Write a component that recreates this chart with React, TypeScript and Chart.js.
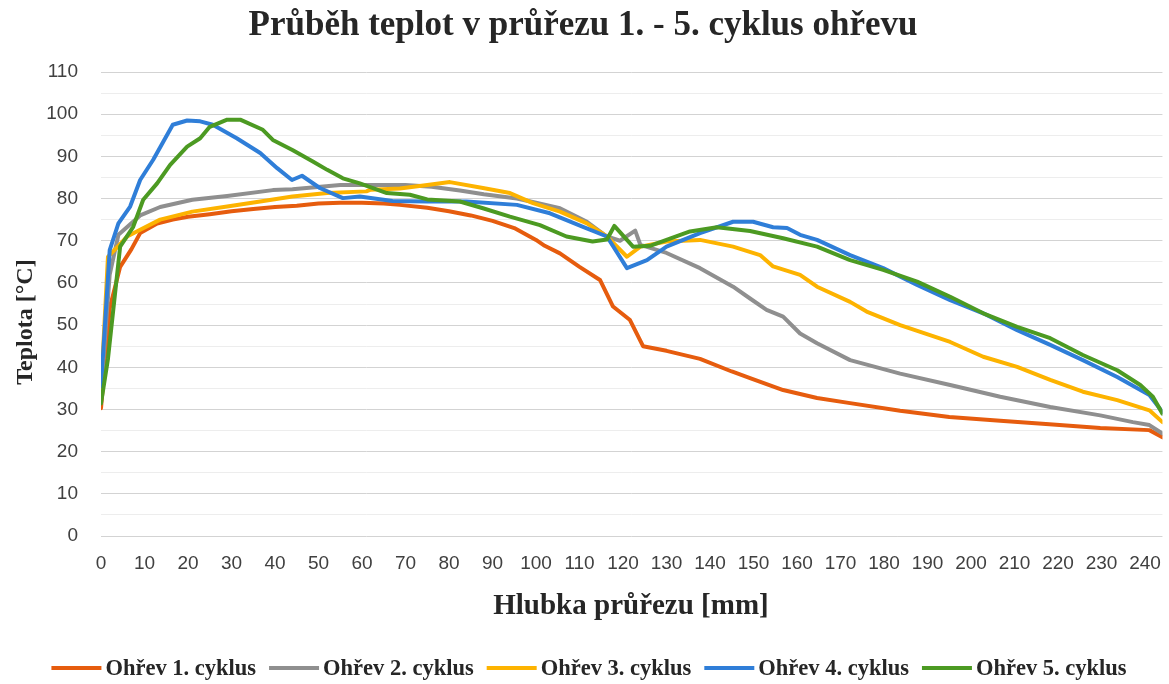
import { useEffect, useRef } from 'react';
import { Chart, registerables } from 'chart.js';

Chart.register(...registerables);

const chartTitle = 'Průběh teplot v průřezu 1. - 5. cyklus ohřevu';
const xAxisTitle = 'Hlubka průřezu [mm]';
const yAxisTitle = 'Teplota [°C]';

const seriesLabels = ['Ohřev 1. cyklus', 'Ohřev 2. cyklus', 'Ohřev 3. cyklus', 'Ohřev 4. cyklus', 'Ohřev 5. cyklus'];
const seriesColors = ['#E65C0E', '#8F8F8F', '#FDB300', '#2F7ED8', '#4C9A22'];

const depth1 = [0, 2, 4.4, 7, 9, 12.9, 16.5, 20, 25, 30, 35, 40, 45, 50, 55, 60, 65, 68.7, 75, 80, 85, 90, 95, 100, 102, 105.5, 110, 114.7, 117.7, 121.6, 124.6, 130, 137.7, 145, 149.2, 156.8, 164.6, 172.2, 183.7, 195, 206.7, 218, 229.7, 241, 244];
const temp1 = [30.3, 54, 63.8, 68, 71.8, 74.1, 75, 75.7, 76.3, 77, 77.5, 78, 78.3, 78.8, 79, 79, 78.8, 78.5, 77.8, 77, 76, 74.7, 73, 70.2, 68.8, 67, 63.8, 60.7, 54.4, 51.2, 45, 43.9, 42, 39, 37.4, 34.6, 32.7, 31.5, 29.7, 28.2, 27.3, 26.5, 25.6, 25.1, 23.4];

const depth2 = [0, 2, 4, 9, 13.6, 21, 29, 39.5, 44, 55, 67, 70, 76, 82.5, 88, 95.6, 100, 105.5, 111.7, 116.3, 119.3, 122.8, 124, 130, 137.7, 145.3, 149.2, 153, 156.8, 160.7, 164.6, 172.2, 183.7, 195.2, 206.7, 218.2, 229.7, 237.2, 241, 244];
const temp2 = [34, 62, 71.4, 76, 78, 79.7, 80.6, 82, 82.2, 83.2, 83.2, 83.2, 82.8, 81.9, 81, 80, 79, 77.7, 74.5, 71, 70, 72.4, 69, 67.1, 63.5, 59.1, 56.3, 53.6, 52, 48, 45.7, 41.7, 38.5, 35.8, 33, 30.6, 28.6, 27, 26.3, 24.3];

const depth3 = [0, 1.6, 6, 9, 13.6, 21, 29, 36.6, 44, 52, 61, 62, 68.7, 75, 80.2, 87.8, 94, 99.3, 105.5, 111.7, 116.3, 120.9, 124, 130, 137.7, 145.3, 151.5, 154.5, 160.7, 164.6, 172.2, 176, 183.7, 195.2, 202.8, 210.6, 218.2, 225.7, 233.6, 241, 244];
const temp3 = [34.6, 66.2, 71, 72.6, 75, 76.9, 78.1, 79.3, 80.5, 81.3, 81.7, 82.1, 82.4, 83.2, 83.9, 82.5, 81.3, 78.9, 76.9, 74.1, 71, 66.2, 68.6, 69.8, 70.2, 68.6, 66.6, 63.9, 61.9, 59.1, 55.5, 53.2, 50, 46, 42.5, 40.1, 37, 34.2, 32.2, 29.8, 27];

const depth4 = [0, 2, 4, 6.7, 9, 12, 16.5, 19.8, 22.8, 25.7, 31.2, 36.6, 40.5, 43.9, 46.2, 50.3, 55.6, 59.5, 67, 75, 84, 95.6, 103.2, 110.8, 116.3, 120.9, 125.5, 130, 137.7, 145.3, 149.9, 154.5, 157.7, 160.7, 164.6, 172.2, 179.8, 187.6, 195.2, 202.8, 210.6, 218.2, 225.7, 233.6, 241, 244];
const temp4 = [35.4, 67.8, 74.1, 78.1, 84.4, 89.2, 97.5, 98.5, 98.3, 97.5, 94.3, 90.8, 87.2, 84.4, 85.4, 82.5, 80.1, 80.5, 79.4, 79.3, 79.3, 78.5, 76.5, 73.3, 71, 63.5, 65.4, 68.6, 71.8, 74.5, 74.5, 73.2, 73, 71.4, 70.2, 66.6, 63.5, 59.5, 55.9, 52.8, 48.8, 45.3, 41.7, 37.7, 33.4, 29.4];

const depth5 = [0, 1.6, 4.4, 7.4, 9.7, 12.9, 15.9, 19.8, 22.8, 25, 29, 32, 37.2, 39.5, 44, 48.7, 52, 55.6, 59.5, 65.7, 71, 75, 82.5, 87.8, 94, 100.9, 107, 113, 116.3, 118, 122.3, 126.2, 130, 135.4, 141.6, 149.2, 156.8, 164.6, 172.2, 179.8, 187.6, 195.2, 202.8, 210.6, 218.2, 225.7, 233.6, 238.9, 241.8, 244];
const temp5 = [31.4, 42, 68.6, 73.3, 79.7, 83.6, 88, 92.3, 94.3, 97, 98.7, 98.7, 96.3, 93.9, 91.5, 88.8, 86.8, 84.8, 83.6, 81.3, 80.9, 79.8, 79.3, 77.7, 75.7, 73.7, 71, 69.8, 70.3, 73.5, 68.6, 68.8, 70.2, 72.2, 73.2, 72.3, 70.6, 68.6, 65.4, 63.1, 60.3, 56.7, 52.8, 49.6, 46.9, 42.9, 39.3, 35.8, 33, 29];

const depths = [depth1, depth2, depth3, depth4, depth5];
const temps = [temp1, temp2, temp3, temp4, temp5];

export default function App() {
  const ref = useRef<HTMLCanvasElement>(null);

  useEffect(() => {
    if (!ref.current) return;
    const datasets = seriesLabels.map((label, i) => ({
      label,
      data: depths[i].map((x, j) => ({ x, y: temps[i][j] })),
      borderColor: seriesColors[i],
      backgroundColor: seriesColors[i],
      borderWidth: 4,
      pointRadius: 0,
      pointHoverRadius: 0,
      showLine: true,
      tension: 0,
      borderCapStyle: 'round' as const,
      borderJoinStyle: 'round' as const,
      order: 5 - i,
    }));

    const textPlugin = {
      id: 'customTexts',
      afterDraw(chart: any) {
        const ctx = chart.ctx as CanvasRenderingContext2D;
        ctx.save();
        ctx.fillStyle = '#262626';
        ctx.textAlign = 'center';
        ctx.textBaseline = 'alphabetic';
        ctx.font = 'bold 35px "Liberation Serif"';
        ctx.fillText(chartTitle, 583, 35);

        ctx.font = 'bold 29px "Liberation Serif"';
        ctx.fillText(xAxisTitle, 631, 614);

        ctx.save();
        ctx.translate(26, 322);
        ctx.rotate(-Math.PI / 2);
        ctx.textBaseline = 'middle';
        ctx.font = 'bold 24px "Liberation Serif"';
        ctx.fillText(yAxisTitle, 0, 0);
        ctx.restore();

        // legend
        ctx.font = 'bold 22.5px "Liberation Serif"';
        const markerW = 50;
        const gap = 4;
        const itemGap = 13;
        const widths = seriesLabels.map((t) => ctx.measureText(t).width);
        const total = widths.reduce((a, w) => a + markerW + gap + w, 0) + itemGap * (seriesLabels.length - 1);
        let x = 589 - total / 2;
        const y = 668;
        ctx.textAlign = 'left';
        ctx.textBaseline = 'middle';
        seriesLabels.forEach((t, i) => {
          ctx.strokeStyle = seriesColors[i];
          ctx.lineWidth = 4;
          ctx.lineCap = 'butt';
          ctx.beginPath();
          ctx.moveTo(x, y);
          ctx.lineTo(x + markerW, y);
          ctx.stroke();
          ctx.fillStyle = '#262626';
          ctx.fillText(t, x + markerW + gap, y + 1);
          x += markerW + gap + widths[i] + itemGap;
        });
        ctx.restore();
      },
    };

    const tickFont = { family: '"Liberation Sans", Arial, sans-serif', size: 19 };

    const chart = new Chart(ref.current, {
      type: 'scatter',
      data: { datasets },
      options: {
        animation: false,
        responsive: false,
        maintainAspectRatio: false,
        layout: { padding: { top: 72, right: 6, bottom: 108, left: 0 } },
        plugins: {
          legend: { display: false },
          title: { display: false },
          tooltip: { enabled: false },
        },
        scales: {
          x: {
            type: 'linear',
            min: 0,
            max: 244,
            grid: { display: false },
            border: { display: false },
            ticks: {
              stepSize: 10,
              includeBounds: false,
              autoSkip: false,
              maxRotation: 0,
              font: tickFont,
              color: '#404040',
              padding: 8,
            },
            afterFit: (s: any) => {
              s.height = 40;
            },
          },
          y: {
            type: 'linear',
            min: 0,
            max: 110,
            grid: {
              drawTicks: false,
              color: (c: any) => (c.tick && c.tick.value % 10 === 0 ? '#d3d3d3' : '#ededed'),
              lineWidth: 1,
            },
            border: { display: false },
            ticks: {
              stepSize: 5,
              autoSkip: false,
              font: tickFont,
              color: '#404040',
              padding: 23,
              callback: (v: any) => (Number(v) % 10 === 0 ? String(v) : ''),
            },
            afterFit: (s: any) => {
              s.width = 101;
            },
          },
        },
      },
      plugins: [textPlugin],
    });
    return () => chart.destroy();
  }, []);

  return (
    <div style={{ position: 'fixed', left: 0, top: 0, width: 1169, height: 684, background: '#ffffff' }}>
      <canvas ref={ref} width={1169} height={684} style={{ display: 'block', width: 1169, height: 684 }} />
    </div>
  );
}
